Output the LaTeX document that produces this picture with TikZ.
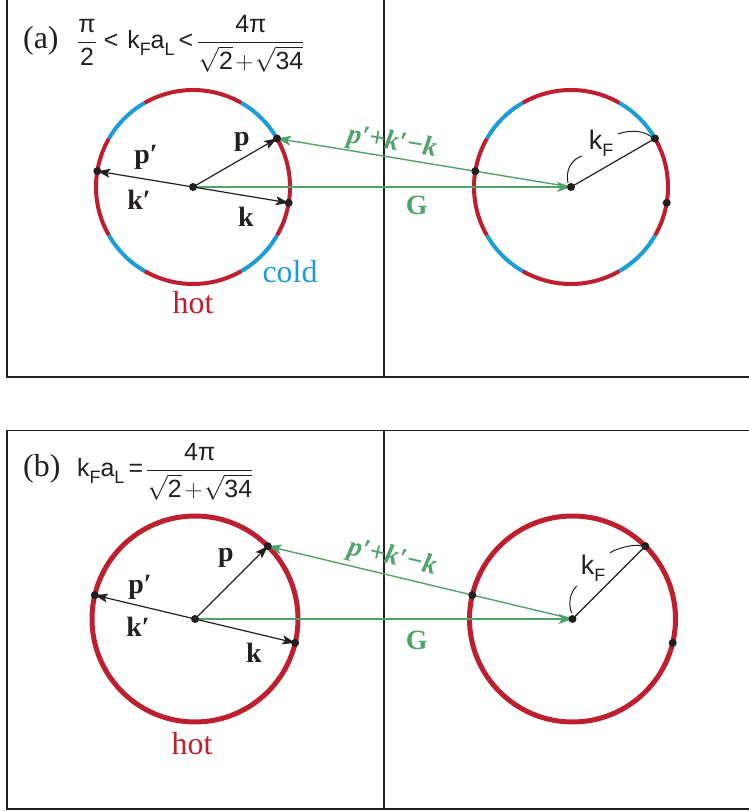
\documentclass[tikz,border=0pt]{standalone}
\usepackage{amsmath}
\usepackage{fontspec}
\setmainfont{Liberation Serif}
\setsansfont{Liberation Sans}
\usetikzlibrary{arrows.meta,calc}
\definecolor{hotc}{RGB}{190,30,45}
\definecolor{coldc}{RGB}{27,157,217}
\definecolor{gc}{RGB}{80,163,107}
\definecolor{framec}{RGB}{35,31,32}
\newcommand\lowsub[2]{\raisebox{-#2}{\fontsize{18}{18}\selectfont #1}}
\tikzset{
  frm/.style={draw=framec, line width=1.6bp},
  dotn/.style={circle, fill=framec, inner sep=0pt, minimum size=8bp},
  vec/.style={draw=framec, line width=1.2bp, -{Stealth[length=13bp,width=9bp,inset=3bp]}},
  gvec/.style={draw=gc, line width=1.4bp, -{Stealth[length=14bp,width=10bp,inset=3.5bp]}},
  rad/.style={draw=framec, line width=1.2bp},
  lead/.style={draw=framec, line width=1bp},
  blbl/.style={font=\bfseries\fontsize{28}{30}\selectfont, inner sep=0pt, text=framec},
  glbl/.style={font=\bfseries\itshape\fontsize{28}{30}\selectfont, inner sep=0pt, text=gc},
  Glbl/.style={font=\bfseries\fontsize{28}{30}\selectfont, inner sep=0pt, text=gc, anchor=base},
  slbl/.style={font=\fontsize{32}{36}\selectfont, inner sep=0pt, anchor=base},
  sflbl/.style={font=\sffamily\fontsize{27}{30}\selectfont, inner sep=0pt, text=framec},
  frml/.style={font=\sffamily\fontsize{25}{28}\selectfont, inner sep=0pt, anchor=base west, text=framec},
  hotarc/.style={draw=hotc, line width=4bp},
  coldarc/.style={draw=coldc, line width=4bp},
}
\begin{document}
\begin{tikzpicture}[x=1bp,y=1bp]
\useasboundingbox (0,0) rectangle (749,811);
\clip (0,0) rectangle (749,811);

% ---------- frames ----------
\draw[frm] (7,434) rectangle (775,814);
\draw[frm] (384,434) -- (384,814);
\draw[frm] (7,2) rectangle (775,380.3);
\draw[frm] (384,2) -- (384,380.3);

% ================= panel (a) =================
\coordinate (La) at (193,624);
\coordinate (Ra) at (571,624);
\coordinate (Pa)  at ($(La)+(30:97)$);
\coordinate (Ppa) at ($(La)+(170.6:97)$);
\coordinate (Ka)  at ($(La)+(-9.4:97)$);
\coordinate (RFa) at ($(Ra)+(30:97)$);
\coordinate (RKa) at ($(Ra)+(-9.4:97)$);
\coordinate (RPa) at ($(Ra)+(170.6:97)$);

\foreach \c in {La,Ra}{
  \foreach \a in {0,90,180,270}{
    \draw[hotarc] ([shift={({\a-30}:97)}]\c) arc[start angle={\a-30}, end angle={\a+30}, radius=97];
  }
  \foreach \a in {45,135,225,315}{
    \draw[coldarc] ([shift={({\a-15}:97)}]\c) arc[start angle={\a-15}, end angle={\a+15}, radius=97];
  }
}

\draw[gvec] (La) -- (Ra);
\draw[gvec] (Ra) -- (Pa);
\draw[vec] (La) -- (Pa);
\draw[vec] (La) -- (Ppa);
\draw[vec] (La) -- (Ka);
\draw[rad] (Ra) -- (RFa);

\foreach \p/\n in {La/dLa,Pa/dPa,Ppa/dPpa,Ka/dKa,Ra/dRa,RFa/dRFa,RKa/dRKa,RPa/dRPa}{
  \node[dotn] (\n) at (\p) {};
}

\node[blbl] (lpa) at (242,669) {p};
\node[blbl] (lppa) at (146,654) {p′};
\node[blbl] (lkpa) at (139,611) {k′};
\node[blbl] (lka) at (246,594) {k};
\node[slbl, text=hotc] (hota) at (193,497) {hot};
\node[slbl, text=coldc] (colda) at (290,528) {cold};
\node[Glbl] (Ga) at (416.7,596) {G};
\node[glbl, rotate=-9.4] (pkka) at (392,668) {p′+k′−k};
\node[sflbl] (kFa) at (601,668) {k\lowsub{F}{7bp}};
\draw[lead] (568,628) .. controls (565,641) and (572,652) .. (582,655);
\draw[lead] (618,677) .. controls (631,682) and (648,680) .. (653,672);

\node[slbl, anchor=base west, text=framec] (taga) at (23,762) {(a)};
\node[frml] (fa) at (77,762) {$\displaystyle \frac{\text{π}}{\text{2}}\hspace{7bp}\text{<}\hspace{9bp}\text{k\lowsub{F}{7bp}a\lowsub{L}{7bp}\,<}\hspace{4bp}\frac{\text{4π}}{\sqrt{\text{2}}\mkern2mu{+}\mkern1mu\sqrt{\text{34}}}$};

% ================= panel (b) =================
\coordinate (Lb) at (195,192);
\coordinate (Rb) at (572.5,192);
\coordinate (Pb)  at ($(Lb)+(45:103)$);
\coordinate (Ppb) at ($(Lb)+(166.6:103)$);
\coordinate (Kb)  at ($(Lb)+(-13.4:103)$);
\coordinate (RFb) at ($(Rb)+(45:103)$);
\coordinate (RKb) at ($(Rb)+(-13.4:103)$);
\coordinate (RPb) at ($(Rb)+(166.6:103)$);

\draw[draw=hotc, line width=5bp] (Lb) circle[radius=103];
\draw[draw=hotc, line width=5bp] (Rb) circle[radius=103];

\draw[gvec] (Lb) -- (Rb);
\draw[gvec] (Rb) -- (Pb);
\draw[vec] (Lb) -- (Pb);
\draw[vec] (Lb) -- (Ppb);
\draw[vec] (Lb) -- (Kb);
\draw[rad] (Rb) -- (RFb);

\foreach \p/\n in {Lb/dLb,Pb/dPb,Ppb/dPpb,Kb/dKb,Rb/dRb,RFb/dRFb,RKb/dRKb,RPb/dRPb}{
  \node[dotn] (\n) at (\p) {};
}

\node[blbl] (lpb) at (226,253) {p};
\node[blbl] (lppb) at (140,224) {p′};
\node[blbl] (lkpb) at (138,184) {k′};
\node[blbl] (lkb) at (254,158) {k};
\node[slbl, text=hotc] (hotb) at (192,56) {hot};
\node[Glbl] (Gb) at (416.7,161) {G};
\node[glbl, rotate=-13.4] (pkkb) at (392,253) {p′+k′−k};
\node[sflbl] (kFb) at (593,243) {k\lowsub{F}{7bp}};
\draw[lead] (571.7,197.7) .. controls (568,207) and (570,219) .. (576.7,225);
\draw[lead] (610,258.3) .. controls (620,264) and (635,267) .. (641.7,265);

\node[slbl, anchor=base west, text=framec] (tagb) at (23,334) {(b)};
\node[frml] (fb) at (77,334) {$\displaystyle \text{k\lowsub{F}{7bp}a\lowsub{L}{7bp}\,=}\hspace{3bp}\frac{\text{4π}}{\sqrt{\text{2}}\mkern2mu{+}\mkern1mu\sqrt{\text{34}}}$};
\end{tikzpicture}
\end{document}
